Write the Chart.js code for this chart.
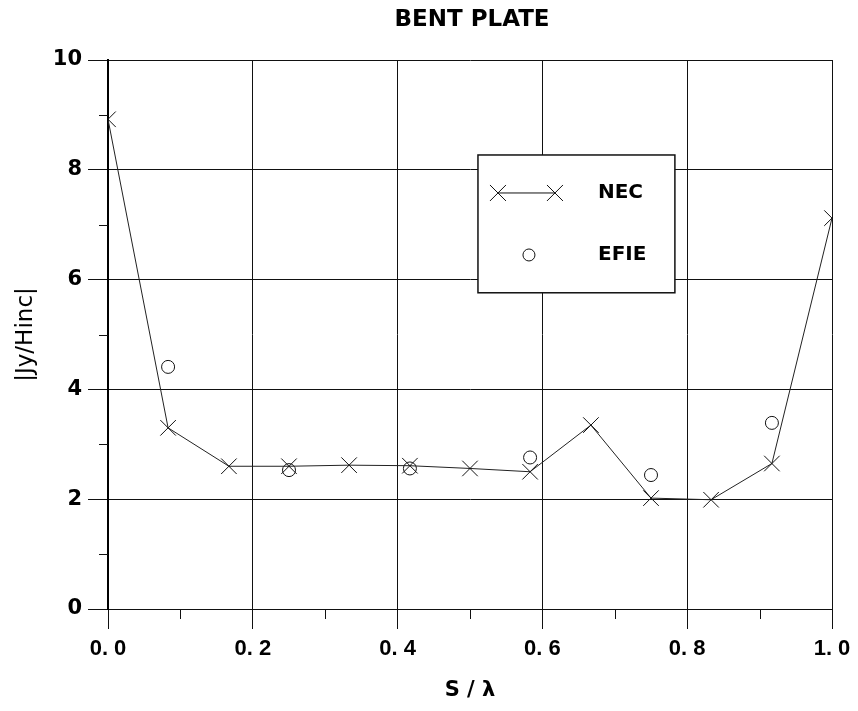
<!DOCTYPE html>
<html>
<head>
    <title>Bent Plate</title>
    <script src="https://cdn.jsdelivr.net/npm/chart.js@4.4.0/dist/chart.umd.min.js"></script>
    <style>
        body { margin: 0; background: #fff; }
    </style>
</head>
<body>
    <canvas id="myChart" width="858" height="711"></canvas>

    <script>
        // Data
        const necX = [0, 0.083, 0.167, 0.25, 0.333, 0.417, 0.5, 0.583, 0.667, 0.75, 0.833, 0.917, 1.0];
        const necY = [8.92, 3.30, 2.60, 2.60, 2.62, 2.61, 2.56, 2.50, 3.35, 2.02, 1.99, 2.65, 7.12];
        const efieX = [0.083, 0.25, 0.417, 0.583, 0.75, 0.917];
        const efieY = [4.41, 2.53, 2.56, 2.76, 2.44, 3.39];
        const xTickLabels = ['0. 0', '0. 2', '0. 4', '0. 6', '0. 8', '1. 0'];
        const xMinor = [0.1, 0.3, 0.5, 0.7, 0.9];
        const yMinor = [1, 3, 5, 7, 9];

        const SANS = "'Liberation Sans', Arial, sans-serif";
        const WIDE = "'DejaVu Sans', Verdana, sans-serif";

        const toPoints = (xs, ys) => xs.map((x, i) => ({ x: x, y: ys[i] }));

        // minor ticks, title and legend box
        const extras = {
            id: 'extras',
            afterDraw(chart) {
                const ctx = chart.ctx;
                const xs = chart.scales.x;
                const ys = chart.scales.y;
                const area = chart.chartArea;
                ctx.save();
                ctx.strokeStyle = '#111';
                ctx.lineWidth = 1;
                xMinor.forEach(v => {
                    const px = Math.round(xs.getPixelForValue(v)) + 0.5;
                    ctx.beginPath();
                    ctx.moveTo(px, area.bottom);
                    ctx.lineTo(px, area.bottom + 10);
                    ctx.stroke();
                });
                yMinor.forEach(v => {
                    const py = Math.round(ys.getPixelForValue(v)) + 0.5;
                    ctx.beginPath();
                    ctx.moveTo(area.left - 9, py);
                    ctx.lineTo(area.left, py);
                    ctx.stroke();
                });

                // title
                ctx.fillStyle = '#000';
                ctx.font = 'bold 23px ' + WIDE;
                ctx.textAlign = 'center';
                ctx.textBaseline = 'middle';
                ctx.fillText('BENT PLATE', (area.left + area.right) / 2 + 2, 20);

                // legend box
                const bx0 = xs.getPixelForValue(0.511), bx1 = xs.getPixelForValue(0.783);
                const by0 = ys.getPixelForValue(8.27), by1 = ys.getPixelForValue(5.76);
                ctx.fillStyle = '#fff';
                ctx.fillRect(bx0, by0, bx1 - bx0, by1 - by0);
                ctx.strokeStyle = '#111';
                ctx.lineWidth = 1.5;
                ctx.strokeRect(bx0, by0, bx1 - bx0, by1 - by0);

                const row1 = by0 + 38, row2 = by0 + 100;
                const lx0 = bx0 + 20, lx1 = bx0 + 77;
                ctx.lineWidth = 1;
                ctx.beginPath();
                ctx.moveTo(lx0, row1);
                ctx.lineTo(lx1, row1);
                ctx.stroke();
                [lx0, lx1].forEach(cx => {
                    ctx.beginPath();
                    ctx.moveTo(cx - 8, row1 - 8);
                    ctx.lineTo(cx + 8, row1 + 8);
                    ctx.moveTo(cx - 8, row1 + 8);
                    ctx.lineTo(cx + 8, row1 - 8);
                    ctx.stroke();
                });
                ctx.beginPath();
                ctx.arc(bx0 + 51, row2, 6, 0, Math.PI * 2);
                ctx.stroke();

                ctx.fillStyle = '#000';
                ctx.font = 'bold 20px ' + WIDE;
                ctx.textAlign = 'left';
                ctx.fillText('NEC', bx0 + 120, row1);
                ctx.fillText('EFIE', bx0 + 120, row2);
                ctx.restore();
            }
        };

        const config = {
            type: 'scatter',
            data: {
                datasets: [{
                    label: 'NEC',
                    data: toPoints(necX, necY),
                    showLine: true,
                    borderColor: '#222',
                    borderWidth: 1,
                    pointStyle: 'crossRot',
                    pointRadius: 11,
                    pointBorderColor: '#111',
                    pointBorderWidth: 1,
                    tension: 0
                }, {
                    label: 'EFIE',
                    data: toPoints(efieX, efieY),
                    showLine: false,
                    pointStyle: 'circle',
                    pointRadius: 6.5,
                    pointBackgroundColor: '#fff',
                    pointBorderColor: '#111',
                    pointBorderWidth: 1
                }]
            },
            options: {
                responsive: false,
                animation: false,
                layout: { padding: { top: 60, right: 26, left: 0, bottom: 0 } },
                plugins: {
                    legend: { display: false },
                    tooltip: { enabled: false }
                },
                scales: {
                    x: {
                        type: 'linear',
                        min: 0,
                        max: 1,
                        ticks: {
                            stepSize: 0.2,
                            color: '#000',
                            padding: 7,
                            maxRotation: 0,
                            font: { family: SANS, size: 22, weight: 'bold' },
                            callback: (v, i) => xTickLabels[i]
                        },
                        grid: { color: '#111', lineWidth: 1, tickLength: 20, tickColor: '#111' },
                        border: { color: '#111', width: 1 },
                        title: {
                            display: true,
                            text: 'S / λ',
                            color: '#000',
                            font: { family: WIDE, size: 21, weight: 'bold' },
                            padding: { top: 4, bottom: 8 }
                        },
                        afterFit: (scale) => { scale.height = 102; }
                    },
                    y: {
                        min: 0,
                        max: 10,
                        ticks: {
                            stepSize: 2,
                            color: '#000',
                            padding: 6,
                            font: { family: WIDE, size: 21, weight: 'bold' }
                        },
                        grid: { color: '#111', lineWidth: 1, tickLength: 20, tickColor: '#111' },
                        border: { color: '#000', width: 2 },
                        title: {
                            display: true,
                            text: '|Jy/Hinc|',
                            color: '#000',
                            font: { family: WIDE, size: 23 },
                            padding: { top: 12, bottom: 4 }
                        },
                        afterFit: (scale) => { scale.width = 108; }
                    }
                }
            },
            plugins: [extras]
        };

        // Create the chart
        const ctx = document.getElementById('myChart');
        new Chart(ctx, config);
    </script>
</body>
</html>
